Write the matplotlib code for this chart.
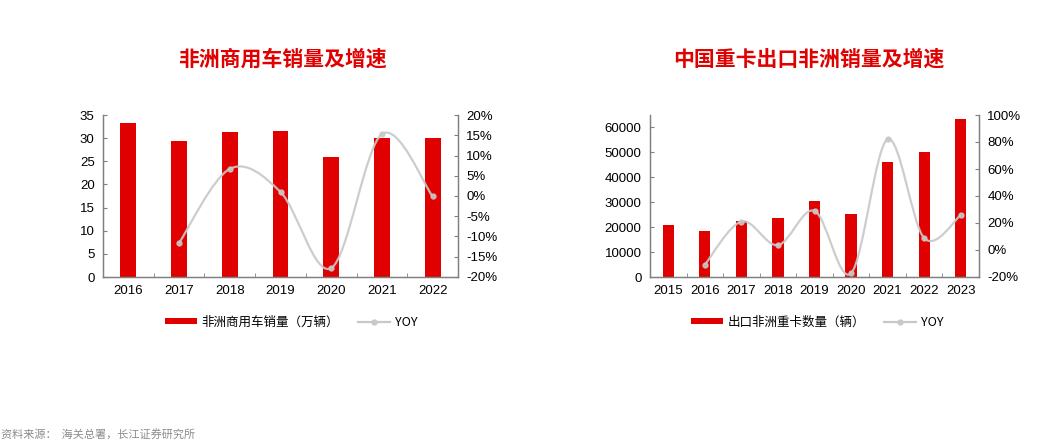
import matplotlib
matplotlib.use("Agg")
import matplotlib.pyplot as plt
from matplotlib.path import Path
from matplotlib.patches import PathPatch, Patch
from matplotlib.lines import Line2D
from matplotlib.ticker import FuncFormatter, MultipleLocator, FixedLocator

plt.rcParams['font.family'] = ['Liberation Sans', 'Noto Sans CJK SC', 'DejaVu Sans']

# ---- data ----
years_left = ['2016', '2017', '2018', '2019', '2020', '2021', '2022']
sales_left = [33.2, 29.3, 31.3, 31.6, 25.9, 30.0, 30.0]          # 万辆
yoy_left_years = ['2017', '2018', '2019', '2020', '2021', '2022']
yoy_left = [-11.6, 6.7, 1.0, -17.8, 15.3, -0.1]                  # %

years_right = ['2015', '2016', '2017', '2018', '2019', '2020', '2021', '2022', '2023']
trucks_right = [20850, 18580, 22460, 23530, 30600, 25130, 46260, 50130, 63370]  # 辆
yoy_right_years = ['2016', '2017', '2018', '2019', '2020', '2021', '2022', '2023']
yoy_right = [-10.9, 21.1, 3.6, 29.0, -17.3, 82.0, 8.8, 25.8]     # %

title_left = '非洲商用车销量及增速'
title_right = '中国重卡出口非洲销量及增速'
legend_bar_left = '非洲商用车销量（万辆）'
legend_bar_right = '出口非洲重卡数量（辆）'
legend_line = 'YOY'
source_text = '资料来源：  海关总署，长江证券研究所'

RED = '#E00000'
GRAY_LINE = '#C8C8C8'
SPINE = '#808080'

fig = plt.figure(figsize=(10.59, 4.41), dpi=100)


def smooth_path(xs, ys):
    pts = list(zip(xs, ys))
    verts = [pts[0]]
    codes = [Path.MOVETO]
    n = len(pts)
    for i in range(n - 1):
        p0 = pts[i - 1] if i > 0 else pts[i]
        p1 = pts[i]
        p2 = pts[i + 1]
        p3 = pts[i + 2] if i + 2 < n else pts[i + 1]
        c1 = (p1[0] + (p2[0] - p0[0]) / 6.0, p1[1] + (p2[1] - p0[1]) / 6.0)
        c2 = (p2[0] - (p3[0] - p1[0]) / 6.0, p2[1] - (p3[1] - p1[1]) / 6.0)
        verts += [c1, c2, p2]
        codes += [Path.CURVE4] * 3
    return Path(verts, codes)


def make_chart(rect, cats, bars, yoy_cats, yoy, ylim, ytop_ticks, y2lim, y2step,
               title, title_x, bar_label, legend_xy):
    ax = fig.add_axes(rect)
    x = list(range(len(cats)))
    ax.bar(x, bars, width=0.31, color=RED, zorder=2)
    ax.set_xlim(-0.5, len(cats) - 0.5)
    ax.set_ylim(*ylim)
    ax.yaxis.set_major_locator(FixedLocator(ytop_ticks))
    ax.set_xticks(x)
    ax.set_xticklabels(cats)
    ax.xaxis.set_minor_locator(FixedLocator([i + 0.5 for i in range(len(cats) - 1)]))
    ax.tick_params(axis='x', which='major', length=0, labelsize=9.5, pad=6, colors='black')
    ax.tick_params(axis='x', which='minor', length=3, direction='in', color=SPINE)
    ax.tick_params(axis='y', length=3, direction='in', labelsize=9.5, color=SPINE, pad=6)
    ax.spines['top'].set_visible(False)
    for s in ['left', 'bottom', 'right']:
        ax.spines[s].set_color(SPINE)
        ax.spines[s].set_linewidth(1.0)

    ax2 = ax.twinx()
    ax2.set_ylim(*y2lim)
    ax2.yaxis.set_major_locator(MultipleLocator(y2step))
    ax2.yaxis.set_major_formatter(FuncFormatter(lambda v, p: f"{v:.0f}%"))
    ax2.tick_params(axis='y', length=3, direction='in', labelsize=9.5, color=SPINE, pad=6)
    ax2.spines['top'].set_visible(False)
    for s in ['left', 'bottom', 'right']:
        ax2.spines[s].set_color(SPINE)
    xi = [cats.index(c) for c in yoy_cats]
    patch = PathPatch(smooth_path(xi, yoy), facecolor='none', edgecolor=GRAY_LINE,
                      lw=1.6, alpha=0.9, zorder=3)
    ax2.add_patch(patch)
    ax2.plot(xi, yoy, linestyle='none', marker='o', ms=3.5, color=GRAY_LINE,
             alpha=0.9, zorder=4)

    fig.text(title_x, 1 - 59 / 441, title, color=RED, fontsize=15,
             fontweight='bold', ha='center', va='center',
             family=['Noto Sans CJK SC', 'DejaVu Sans'])

    handles = [Patch(facecolor=RED, edgecolor='none'),
               Line2D([0], [0], color=GRAY_LINE, lw=1.6, marker='o', ms=3.5)]
    fig.legend(handles, [bar_label, legend_line], loc='center',
               bbox_to_anchor=legend_xy, ncol=2, frameon=False,
               handlelength=2.6, handleheight=0.45, handletextpad=0.35,
               columnspacing=1.5,
               prop={'family': ['Noto Sans CJK SC', 'DejaVu Sans'], 'size': 9})
    return ax, ax2


make_chart([103 / 1059, 1 - 277 / 441, 355 / 1059, 162 / 441],
           years_left, sales_left, yoy_left_years, yoy_left,
           (0, 35), [0, 5, 10, 15, 20, 25, 30, 35], (-20, 20), 5,
           title_left, 282 / 1059, legend_bar_left,
           (291 / 1059, 1 - 322 / 441))

make_chart([650 / 1059, 1 - 277 / 441, 329 / 1059, 162 / 441],
           years_right, trucks_right, yoy_right_years, yoy_right,
           (0, 65000), [0, 10000, 20000, 30000, 40000, 50000, 60000],
           (-20, 100), 20,
           title_right, 809 / 1059, legend_bar_right,
           (817 / 1059, 1 - 322 / 441))

fig.text(0.001, 1 - 434 / 441, source_text, fontsize=8, color='#8C8C8C',
         ha='left', va='center', family=['Noto Sans CJK SC', 'DejaVu Sans'])

fig.savefig('out.png', dpi=100)
